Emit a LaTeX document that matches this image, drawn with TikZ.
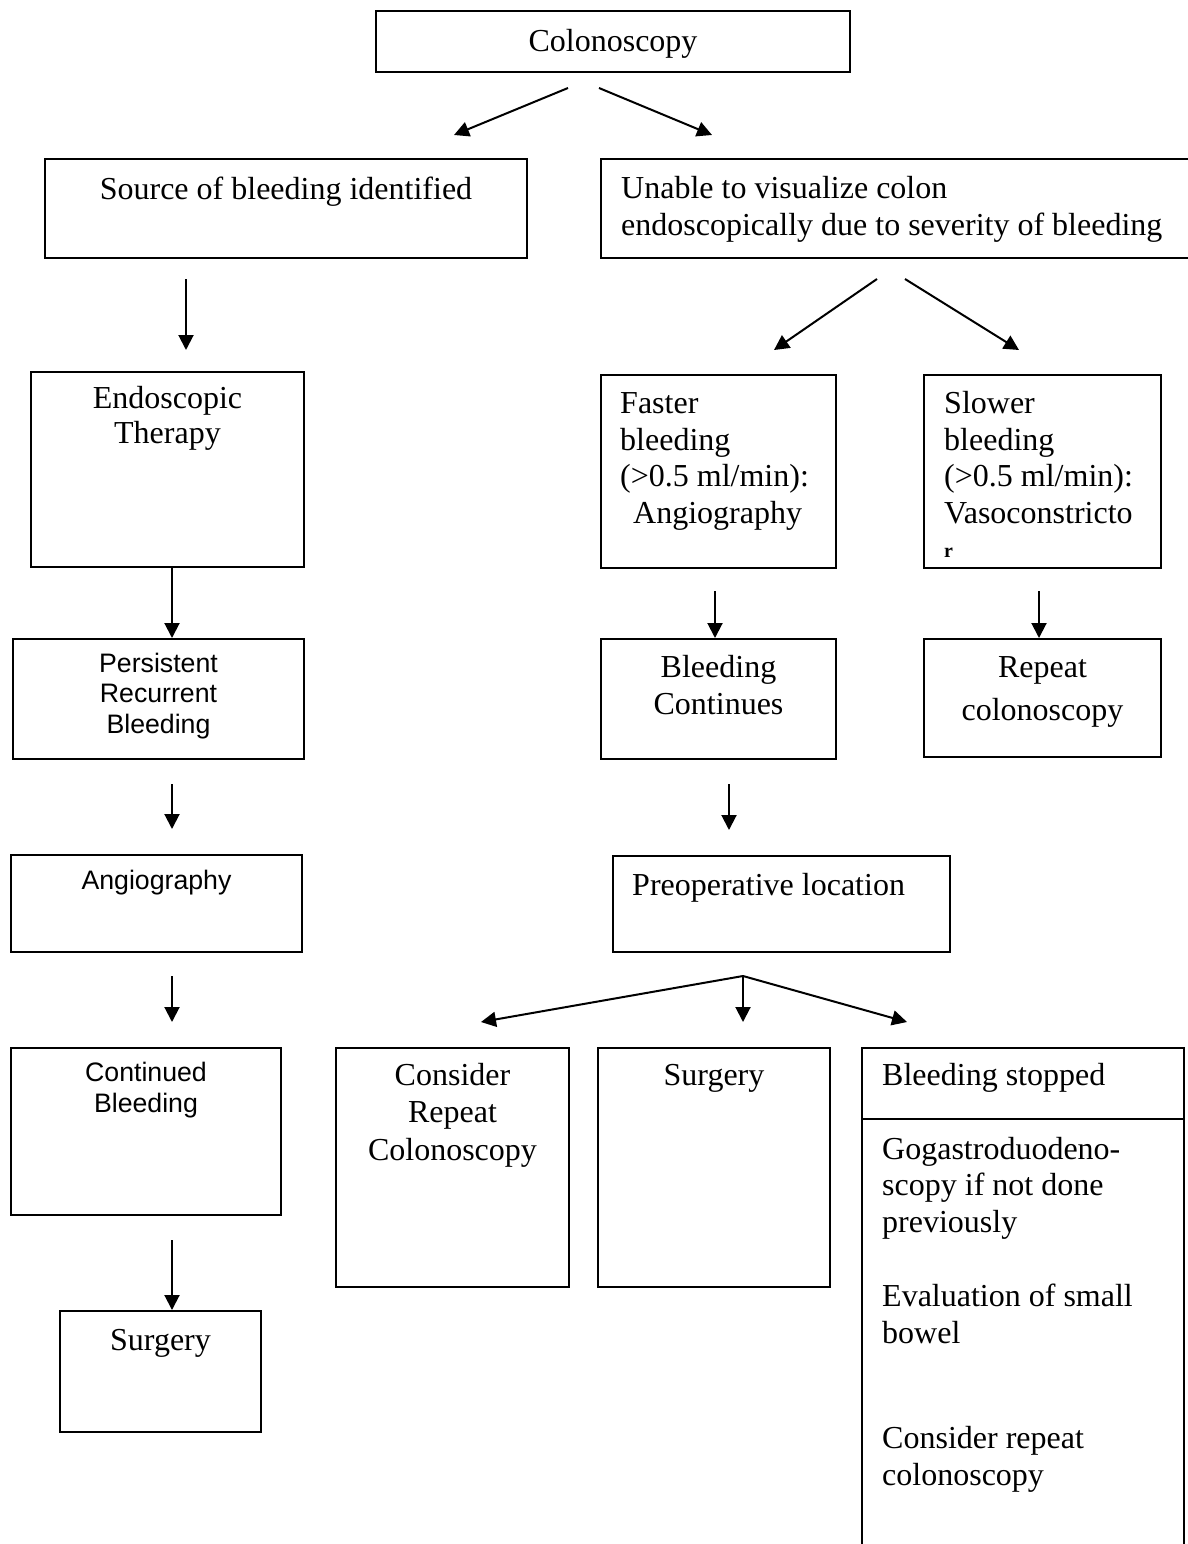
\documentclass[tikz,border=0pt]{standalone}
\usepackage{fontspec}
\setmainfont{Liberation Serif}
\setsansfont{Liberation Sans}
\usetikzlibrary{arrows.meta,positioning,calc}
\def \gapTop {20}
\def \gapBot {-25}
\tikzset{
	box/.style= {draw, rectangle, line width=2pt, inner sep=0pt, anchor=north west},
	txt/.style= {inner sep=0pt, font=\fontsize{32}{36.5}\selectfont},
	sanstxt/.style= {inner sep=0pt, font=\sffamily\fontsize{26.7}{30.5}\selectfont},
	link/.style= {->, line width=2pt}
}

\begin{document}
\begin{tikzpicture}[x=1pt, y=-1pt, >={Triangle[width=15pt,length=15pt]}]
\useasboundingbox (0,0) rectangle (1188,1544);

%%%%%%%%%%%%%%%%%%%%% Nodes %%%%%%%%%%%%%%%%%%%%%
% (multi-line texts are anchored at the baseline of their last line)
\node [box, minimum width=474pt, minimum height=61pt] (colon) at (375,10) {};
\node [txt, anchor=base] (colonT) at ($(colon.north)+(0,42)$) {Colonoscopy};

\node [box, minimum width=482pt, minimum height=99pt] (source) at (44,158) {};
\node [txt, anchor=base] (sourceT) at ($(source.north)+(0,41)$) {Source of bleeding identified};
\node [box, minimum width=600pt, minimum height=99pt] (unable) at (600,158) {};
\node [txt, anchor=base west, align=left] (unableT) at ($(unable.north west)+(21,77)$) {Unable to visualize colon\\endoscopically due to severity of bleeding};

% left column
\node [box, minimum width=273pt, minimum height=195pt] (endo) at (30,371) {};
\node [txt, anchor=base, align=center] (endoT) at ($(endo.north)+(0,72)$) {Endoscopic\\[-1.5pt]Therapy};
\node [box, minimum width=291pt, minimum height=120pt] (persist) at (12,638) {};
\node [sanstxt, anchor=base, align=center] (persistT) at ($(persist.north)+(0,95)$) {Persistent\\Recurrent\\Bleeding};
\node [box, minimum width=291pt, minimum height=97pt] (angioL) at (10,854) {};
\node [sanstxt, anchor=base] (angioLT) at ($(angioL.north)+(0,35)$) {Angiography};
\node [box, minimum width=270pt, minimum height=167pt] (contin) at (10,1047) {};
\node [sanstxt, anchor=base, align=center] (continT) at ($(contin.north)+(0,65)$) {Continued\\Bleeding};
\node [box, minimum width=201pt, minimum height=121pt] (surgL) at (59,1310) {};
\node [txt, anchor=base] (surgLT) at ($(surgL.north)+(0,40)$) {Surgery};

% right branch
\node [box, minimum width=235pt, minimum height=193pt] (faster) at (600,374) {};
\node [txt, anchor=base west, align=left] (fasterT) at ($(faster.north west)+(20,149)$) {Faster\\bleeding\\(>0.5 ml/min):\\\hspace*{13pt}Angiography};
\node [box, minimum width=237pt, minimum height=193pt] (slower) at (923,374) {};
\node [txt, anchor=base west, align=left] (slowerT) at ($(slower.north west)+(21,183)$) {Slower\\bleeding\\(>0.5 ml/min):\\Vasoconstricto\\[-2.5pt]{\fontsize{20}{22}\selectfont\bfseries r}};
\node [box, minimum width=235pt, minimum height=120pt] (bleedC) at (600,638) {};
\node [txt, anchor=base, align=center] (bleedCT) at ($(bleedC.north)+(0,76)$) {Bleeding\\Continues};
\node [box, minimum width=237pt, minimum height=118pt] (repeat) at (923,638) {};
\node [txt, anchor=base, align=center] (repeatT) at ($(repeat.north)+(0,82)$) {Repeat\\[6.5pt]colonoscopy};
\node [box, minimum width=337pt, minimum height=96pt] (preop) at (612,855) {};
\node [txt, anchor=base west] (preopT) at ($(preop.north west)+(20,40)$) {Preoperative location};

% bottom row
\node [box, minimum width=233pt, minimum height=239pt] (consider) at (335,1047) {};
\node [txt, anchor=base, align=center] (considerT) at ($(consider.north)+(0,113)$) {Consider\\[1pt]Repeat\\[1pt]Colonoscopy};
\node [box, minimum width=232pt, minimum height=239pt] (surgM) at (597,1047) {};
\node [txt, anchor=base] (surgMT) at ($(surgM.north)+(0,38)$) {Surgery};
\node [box, minimum width=322pt, minimum height=71pt] (stopHead) at (861,1047) {};
\node [txt, anchor=base west] (stopHeadT) at ($(stopHead.north west)+(21,38)$) {Bleeding stopped};
\node [box, minimum width=322pt, minimum height=460pt] (stopBody) at (861,1118) {};
\node [txt, anchor=base west, align=left] (stopBodyT) at ($(stopBody.north west)+(21,367)$) {Gogastroduodeno-\\scopy if not done\\previously\\[38pt]Evaluation of small\\bowel\\[69pt]Consider repeat\\colonoscopy};

%%%%%%%%%%%%%%%%%%%%% Links %%%%%%%%%%%%%%%%%%%%%
\draw [link] ($(colon.south)+(-45,15)$) -- ($(source.north east)+(-74,-23)$);
\draw [link] ($(colon.south)+(-14,15)$) -- ($(unable.north west)+(112,-23)$);

\draw [link] ($(source.south west)+(142,\gapTop)$) -- ($(endo.north west)+(156,-21)$);
\draw [link] ($(endo.south west)+(142,0)$) -- ($(persist.north west)+(160,0)$);
\draw [link] ($(persist.south west)+(160,24)$) -- ($(angioL.north west)+(162,\gapBot)$);
\draw [link] ($(angioL.south west)+(162,23)$) -- ($(contin.north west)+(162,\gapBot)$);
\draw [link] ($(contin.south west)+(162,24)$) -- ($(surgL.north west)+(113,0)$);

\draw [link] ($(unable.south west)+(277,\gapTop)$) -- ($(faster.north west)+(174,-24)$);
\draw [link] ($(unable.south west)+(305,\gapTop)$) -- ($(slower.north west)+(96,-24)$);
\draw [link] ($(faster.south west)+(115,22)$) -- ($(bleedC.north west)+(115,0)$);
\draw [link] ($(slower.south west)+(116,22)$) -- ($(repeat.north west)+(116,0)$);
\draw [link] ($(bleedC.south west)+(129,24)$) -- ($(preop.north west)+(117,\gapBot)$);

\coordinate (fan) at ($(preop.south west)+(131,23)$);
\draw [link] (fan) -- ($(consider.north west)+(146,\gapBot)$);
\draw [link] (fan) -- ($(surgM.north west)+(146,\gapBot)$);
\draw [link] (fan) -- ($(stopHead.north west)+(46,\gapBot)$);

\end{tikzpicture}
\end{document}
